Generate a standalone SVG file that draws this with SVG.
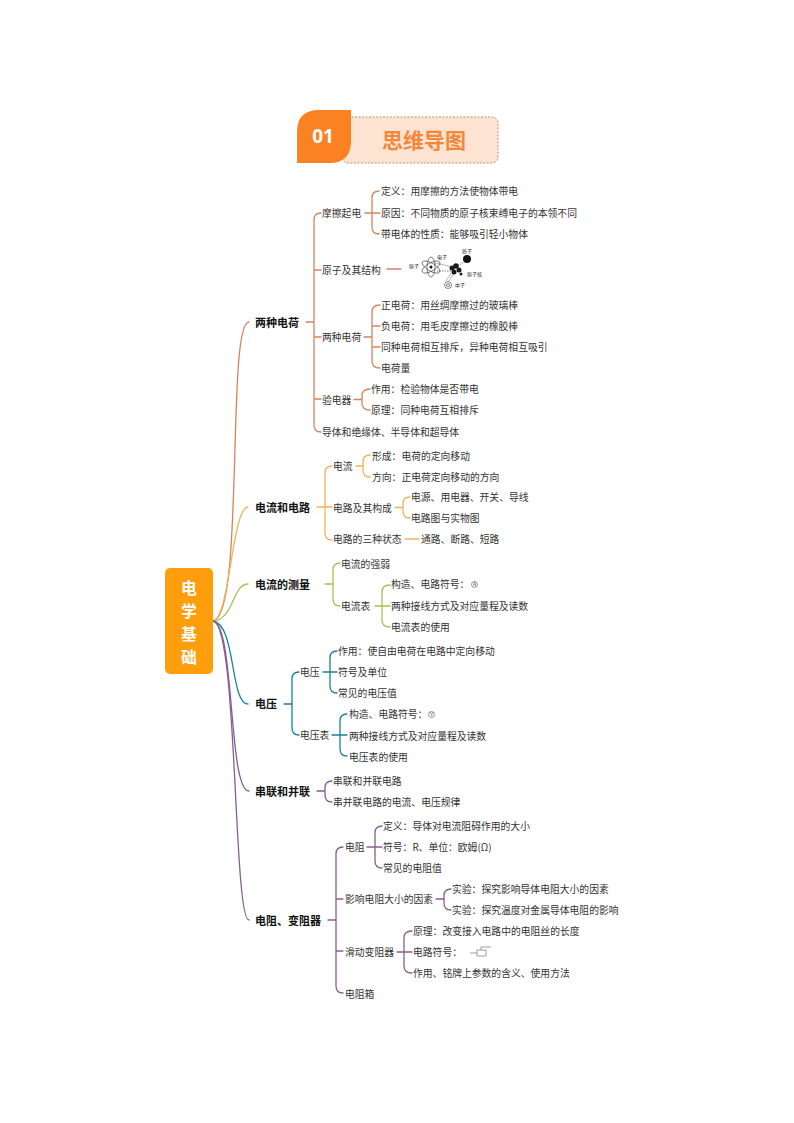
<svg xmlns="http://www.w3.org/2000/svg" width="794" height="1123" viewBox="0 0 794 1123">
<style>
text{font-family:"Noto Sans CJK SC","Noto Sans",sans-serif;font-size:9.8px;fill:#333}
.b{font-size:11px;font-weight:700;fill:#111}
.r{font-size:15.8px;font-weight:700;fill:#fff}
.t{font-size:5px;fill:#222}
.k{fill:none;stroke-width:1.3;stroke-linecap:round}
.c1{stroke:#d4845f}.c2{stroke:#efb45a}.c3{stroke:#aebf50}.c4{stroke:#16829b}.c5{stroke:#7c5fa3}.c6{stroke:#86608f}
</style>
<rect width="794" height="1123" fill="#fff"/>
<g id="header">
<rect x="342" y="117" width="156" height="46" rx="6" fill="#fde4d2" stroke="#c58b72" stroke-width="1" stroke-dasharray="2 1.5"/>
<path d="M297 163V132Q297 110 319 110H351V141Q351 163 329 163Z" fill="#fb8122"/>
<text x="323" y="143" text-anchor="middle" style="font-size:19px;font-weight:700;fill:#fff;font-family:'Open Sans','Noto Sans',sans-serif">01</text>
<text x="424" y="148" text-anchor="middle" style="font-size:21px;font-weight:700;fill:#f4873a">思维导图</text>
</g>
<g id="connectors">
<g class="k c1">
<path d="M213 621C245 616 226 322 249 322"/>
<path d="M306 322H314M321 213Q314 213 314 220V425Q314 432 321 432M314 270H321M314 337H321M314 399H321"/>
<path d="M365 213H380M379 191Q372 191 372 198V227Q372 234 379 234"/>
<path d="M387 269H401"/>
<path d="M364 337H372M380 305Q372 305 372 312V361Q372 368 380 368M372 326H380M372 347H380"/>
<path d="M354 399.500H362M370 389Q362 389 362 396V403Q362 410 370 410"/>
</g>
<g class="k c2">
<path d="M213 621C230 618 232 507 248 507"/>
<path d="M317 507H332M332 466Q325 466 325 473V533Q325 540 332 540"/>
<path d="M356 466H363M370 455Q363 455 363 462V470Q363 477 370 477"/>
<path d="M395 507.500H403M410 497Q403 497 403 504V511Q403 518 410 518"/>
<path d="M405 539H419"/>
</g>
<g class="k c3">
<path d="M213 621C234 620 232 584 248 584"/>
<path d="M325 584H333M340 563Q333 563 333 570V599Q333 606 340 606"/>
<path d="M375 606H390M390 585Q382 585 382 592V620Q382 627 390 627"/>
</g>
<g class="k c4">
<path d="M213 621C236 624 230 704 248 704"/>
<path d="M284 704H292M299 672Q292 672 292 679V728Q292 735 299 735"/>
<path d="M323 672H337M337 651Q330 651 330 658V686Q330 693 337 693"/>
<path d="M332 735H347M347 714Q340 714 340 721V749Q340 756 347 756"/>
</g>
<g class="k c5">
<path d="M213 621C235 624 228 791 249 791"/>
<path d="M317 791H325M332 781Q325 781 325 788V795Q325 802 332 802"/>
</g>
<g class="k c6">
<path d="M213 621C238 624 233 920 249 920"/>
<path d="M328 920H336M343 847Q336 847 336 854V986Q336 993 343 993M336 899H343M336 951H343"/>
<path d="M367 847H382M382 826Q375 826 375 833V861Q375 868 382 868"/>
<path d="M436 899H444M451 889Q444 889 444 896V903Q444 910 451 910"/>
<path d="M397 952H412M412 931Q404 931 404 938V966Q404 973 412 973"/>
</g>
</g>
<g id="root"><rect x="165" y="568" width="48" height="106" rx="5" fill="#ff9e0c"/>
<g text-anchor="middle"><text class="r" x="189" y="594">电</text><text class="r" x="189" y="617">学</text><text class="r" x="189" y="640">基</text><text class="r" x="189" y="663">础</text></g></g>
<g id="n1"><text class="b" x="255" y="326.500">两种电荷</text></g>
<g id="n1-1"><text x="322" y="217">摩擦起电</text></g>
<g id="n1-1-1"><text x="381" y="195">定义：用摩擦的方法使物体带电</text></g>
<g id="n1-1-2"><text x="381" y="216.500">原因：不同物质的原子核束缚电子的本领不同</text></g>
<g id="n1-1-3"><text x="381" y="238">带电体的性质：能够吸引轻小物体</text></g>
<g id="n1-2"><text x="322" y="273.500">原子及其结构</text></g>
<g id="atom">
<g fill="none" stroke="#333" stroke-width=".6">
<ellipse cx="431" cy="267" rx="10" ry="4" transform="rotate(30 431 267)"/>
<ellipse cx="431" cy="267" rx="10" ry="4" transform="rotate(-30 431 267)"/>
<ellipse cx="431" cy="267" rx="10" ry="4" transform="rotate(90 431 267)"/>
<path d="M435 263L453 267M437 271L452 271M458 266L465 261M454 273L449 281M451 273L446 281" stroke-dasharray="1.500 1"/>
<circle cx="448" cy="285" r="3.500"/><circle cx="448" cy="285" r="1.500"/>
</g>
<circle cx="431" cy="267" r="1.500" fill="#111"/>
<circle cx="467" cy="259" r="4" fill="#111"/>
<g fill="#1a1a1a"><circle cx="452" cy="268" r="2.500"/><circle cx="456" cy="266" r="2.800"/><circle cx="459" cy="270" r="2.500"/><circle cx="454" cy="272" r="2.500"/><circle cx="461" cy="274" r="1.500"/></g>
<text class="t" x="409" y="268">原子</text><text class="t" x="437" y="259">电子</text><text class="t" x="462" y="253">质子</text><text class="t" x="467" y="276">原子核</text><text class="t" x="455" y="287">中子</text>
</g>
<g id="n1-3"><text x="322" y="341">两种电荷</text></g>
<g id="n1-3-1"><text x="381" y="309">正电荷：用丝绸摩擦过的玻璃棒</text></g>
<g id="n1-3-2"><text x="381" y="330">负电荷：用毛皮摩擦过的橡胶棒</text></g>
<g id="n1-3-3"><text x="381" y="351">同种电荷相互排斥，异种电荷相互吸引</text></g>
<g id="n1-3-4"><text x="381" y="372">电荷量</text></g>
<g id="n1-4"><text x="322" y="403.500">验电器</text></g>
<g id="n1-4-1"><text x="371" y="393">作用：检验物体是否带电</text></g>
<g id="n1-4-2"><text x="371" y="414">原理：同种电荷互相排斥</text></g>
<g id="n1-5"><text x="322" y="435.500">导体和绝缘体、半导体和超导体</text></g>
<g id="n2"><text class="b" x="255" y="511.500">电流和电路</text></g>
<g id="n2-1"><text x="333" y="470">电流</text></g>
<g id="n2-1-1"><text x="372" y="459.500">形成：电荷的定向移动</text></g>
<g id="n2-1-2"><text x="372" y="480.500">方向：正电荷定向移动的方向</text></g>
<g id="n2-2"><text x="333" y="511.500">电路及其构成</text></g>
<g id="n2-2-1"><text x="411" y="501">电源、用电器、开关、导线</text></g>
<g id="n2-2-2"><text x="411" y="522">电路图与实物图</text></g>
<g id="n2-3"><text x="333" y="543">电路的三种状态</text></g>
<g id="n2-3-1"><text x="421" y="543">通路、断路、短路</text></g>
<g id="n3"><text class="b" x="255" y="589">电流的测量</text></g>
<g id="n3-1"><text x="341" y="567.500">电流的强弱</text></g>
<g id="n3-2"><text x="341" y="610">电流表</text></g>
<g id="n3-2-1"><text x="391" y="588">构造、电路符号：</text><circle cx="474.500" cy="584.500" r="3" fill="none" stroke="#555" stroke-width=".6"/><text x="474.500" y="586.300" text-anchor="middle" style="font-size:4.500px">A</text></g>
<g id="n3-2-2"><text x="391" y="609.500">两种接线方式及对应量程及读数</text></g>
<g id="n3-2-3"><text x="391" y="631">电流表的使用</text></g>
<g id="n4"><text class="b" x="255" y="708">电压</text></g>
<g id="n4-1"><text x="300" y="676">电压</text></g>
<g id="n4-1-1"><text x="338" y="655">作用：使自由电荷在电路中定向移动</text></g>
<g id="n4-1-2"><text x="338" y="676">符号及单位</text></g>
<g id="n4-1-3"><text x="338" y="697">常见的电压值</text></g>
<g id="n4-2"><text x="300" y="739">电压表</text></g>
<g id="n4-2-1"><text x="349" y="718">构造、电路符号：</text><circle cx="431.500" cy="714.500" r="3" fill="none" stroke="#555" stroke-width=".6"/><text x="431.500" y="716.300" text-anchor="middle" style="font-size:4.500px">V</text></g>
<g id="n4-2-2"><text x="349" y="739.500">两种接线方式及对应量程及读数</text></g>
<g id="n4-2-3"><text x="349" y="760.500">电压表的使用</text></g>
<g id="n5"><text class="b" x="255" y="795.500">串联和并联</text></g>
<g id="n5-1"><text x="333" y="784.500">串联和并联电路</text></g>
<g id="n5-2"><text x="333" y="805.500">串并联电路的电流、电压规律</text></g>
<g id="n6"><text class="b" x="255" y="924.500">电阻、变阻器</text></g>
<g id="n6-1"><text x="345" y="851">电阻</text></g>
<g id="n6-1-1"><text x="383" y="830">定义：导体对电流阻碍作用的大小</text></g>
<g id="n6-1-2"><text x="383" y="851">符号：R、单位：欧姆(Ω)</text></g>
<g id="n6-1-3"><text x="383" y="872">常见的电阻值</text></g>
<g id="n6-2"><text x="345" y="903">影响电阻大小的因素</text></g>
<g id="n6-2-1"><text x="452" y="893">实验：探究影响导体电阻大小的因素</text></g>
<g id="n6-2-2"><text x="452" y="914">实验：探究温度对金属导体电阻的影响</text></g>
<g id="n6-3"><text x="345" y="955.500">滑动变阻器</text></g>
<g id="n6-3-1"><text x="413" y="935">原理：改变接入电路中的电阻丝的长度</text></g>
<g id="n6-3-2"><text x="413" y="956">电路符号：</text><path d="M470 953H477M477 950H486V956H477ZM481 950V947H491" fill="none" stroke="#777" stroke-width=".7"/></g>
<g id="n6-3-3"><text x="413" y="977">作用、铭牌上参数的含义、使用方法</text></g>
<g id="n6-4"><text x="345" y="997.500">电阻箱</text></g>
</svg>
